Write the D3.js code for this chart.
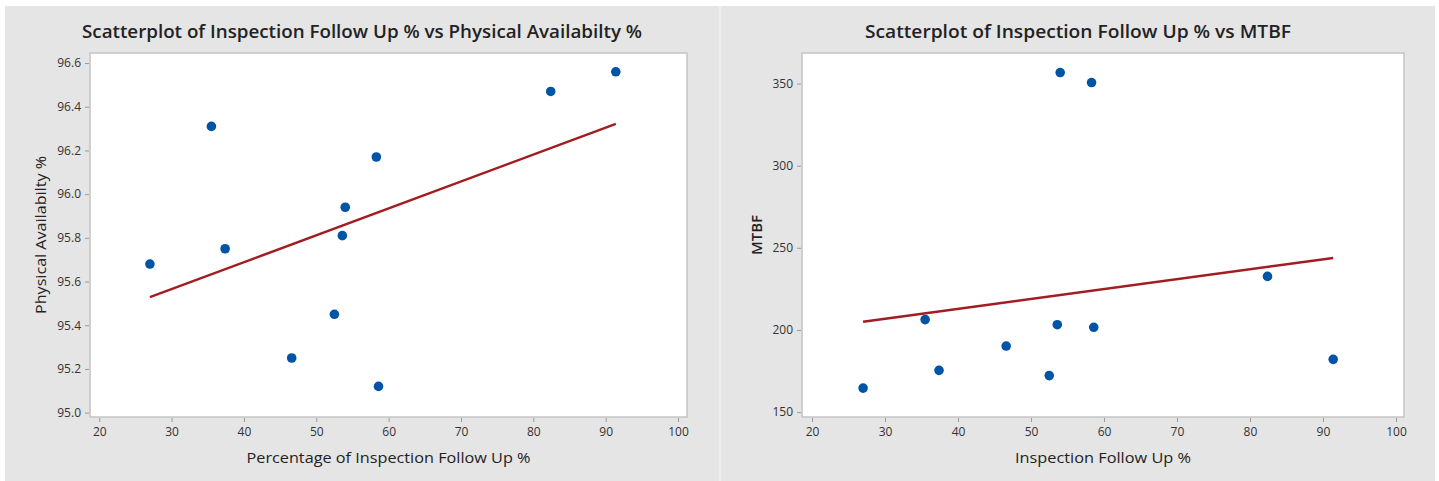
<!DOCTYPE html>
<html>
<head>
<meta charset="utf-8">
<script src="https://d3js.org/d3.v7.min.js"></script>
<style>
  body { margin: 0; background: #fff; }
  svg text { font-family: "Open Sans", "Noto Sans", sans-serif; }
</style>
</head>
<body>
<div id="chart"></div>
<script>
// Inspection follow up % (shared x values for both scatterplots)
const followUp = [27.0, 35.5, 37.4, 46.6, 52.5, 53.6, 54.0, 58.3, 58.6, 82.4, 91.4];
// Physical availability %
const availability = [95.68, 96.31, 95.75, 95.25, 95.45, 95.81, 95.94, 96.17, 95.12, 96.47, 96.56];
// Mean time between failures
const mtbf = [164.6, 206.3, 175.4, 190.2, 172.2, 203.2, 356.7, 350.6, 201.6, 232.6, 182.1];

const xTicks = [20, 30, 40, 50, 60, 70, 80, 90, 100];
const availTicks = [95.0, 95.2, 95.4, 95.6, 95.8, 96.0, 96.2, 96.4, 96.6];
const mtbfTicks = [150, 200, 250, 300, 350];

const W = 1439, H = 481;

const svg = d3.select("#chart").append("svg")
    .attr("width", W)
    .attr("height", H);

// thin divider strip between the two panels
svg.append("rect")
    .attr("x", 5).attr("y", 6)
    .attr("width", 1430).attr("height", H - 6)
    .attr("fill", "#efefef");

// least squares fit
function fit(xs, ys) {
  const mx = d3.mean(xs), my = d3.mean(ys);
  let sxy = 0, sxx = 0;
  xs.forEach((x, i) => { sxy += (x - mx) * (ys[i] - my); sxx += (x - mx) * (x - mx); });
  const b = sxy / sxx;
  return x => my + b * (x - mx);
}

function drawPanel(opt) {
  const g = svg.append("g");

  // panel background
  g.append("rect")
      .attr("x", opt.panel[0]).attr("y", 6)
      .attr("width", opt.panel[1] - opt.panel[0]).attr("height", H - 6)
      .attr("fill", "#e5e5e5");

  const x = d3.scaleLinear().domain(opt.xDomain).range([opt.left, opt.right]);
  const y = d3.scaleLinear().domain(opt.yDomain).range([opt.bottom, opt.top]);

  // plot area
  g.append("rect")
      .attr("x", opt.left).attr("y", opt.top)
      .attr("width", opt.right - opt.left).attr("height", opt.bottom - opt.top)
      .attr("fill", "#fff")
      .attr("stroke", "#c4c4c4")
      .attr("stroke-width", 1.5);

  // axes
  const xAxis = g.append("g")
      .attr("transform", "translate(0," + (opt.bottom + 1) + ")")
      .call(d3.axisBottom(x).tickValues(xTicks).tickSize(4).tickPadding(5).tickFormat(d3.format("d")));
  const yAxis = g.append("g")
      .attr("transform", "translate(" + (opt.left - 1) + ",0)")
      .call(d3.axisLeft(y).tickValues(opt.yTicks).tickSize(4).tickPadding(4).tickFormat(opt.yFormat));

  [xAxis, yAxis].forEach(a => {
    a.select(".domain").remove();
    a.selectAll(".tick line").attr("stroke", "#9a9a9a");
    a.selectAll(".tick text")
        .attr("fill", "#333")
        .style("font-size", "12px");
  });

  // regression line
  const f = fit(followUp, opt.ys);
  const ext = d3.extent(followUp);
  g.append("line")
      .attr("x1", x(ext[0])).attr("y1", y(f(ext[0])))
      .attr("x2", x(ext[1])).attr("y2", y(f(ext[1])))
      .attr("stroke", "#a11d21")
      .attr("stroke-width", 2.5);

  // points
  g.selectAll("circle.pt")
      .data(followUp.map((d, i) => [d, opt.ys[i]]))
      .enter().append("circle")
      .attr("class", "pt")
      .attr("cx", d => x(d[0]))
      .attr("cy", d => y(d[1]))
      .attr("r", 4.8)
      .attr("fill", "#0054a6");

  // title
  g.append("text")
      .attr("x", (opt.panel[0] + opt.panel[1]) / 2)
      .attr("y", 38)
      .attr("text-anchor", "middle")
      .attr("fill", "#222")
      .attr("textLength", opt.titleLen)
      .attr("lengthAdjust", "spacingAndGlyphs")
      .style("font-size", "18px")
      .style("font-weight", 600)
      .text(opt.title);

  // x label
  g.append("text")
      .attr("x", (opt.left + opt.right) / 2)
      .attr("y", 463)
      .attr("text-anchor", "middle")
      .attr("fill", "#222")
      .attr("textLength", opt.xLabelLen)
      .attr("lengthAdjust", "spacingAndGlyphs")
      .style("font-size", "15px")
      .text(opt.xLabel);

  // y label
  g.append("text")
      .attr("transform", "translate(" + opt.yLabelX + "," + ((opt.top + opt.bottom) / 2) + ") rotate(-90)")
      .attr("text-anchor", "middle")
      .attr("fill", "#222")
      .attr("textLength", opt.yLabelLen)
      .attr("lengthAdjust", "spacingAndGlyphs")
      .style("font-size", "14px")
      .style("font-weight", opt.yLabelWeight)
      .text(opt.yLabel);
}

drawPanel({
  panel: [5, 719],
  left: 90, right: 687, top: 53, bottom: 417,
  xDomain: [18.72, 101.24],
  yDomain: [94.98, 96.646],
  ys: availability,
  yTicks: availTicks,
  yFormat: d3.format(".1f"),
  title: "Scatterplot of Inspection Follow Up % vs Physical Availabilty %",
  titleLen: 560,
  xLabel: "Percentage of Inspection Follow Up %",
  xLabelLen: 284,
  yLabel: "Physical Availabilty %",
  yLabelLen: 158,
  yLabelX: 46,
  yLabelWeight: 400
});

drawPanel({
  panel: [721, 1435],
  left: 802, right: 1404, top: 53, bottom: 417,
  xDomain: [18.63, 101.1],
  yDomain: [147, 368.6],
  ys: mtbf,
  yTicks: mtbfTicks,
  yFormat: d3.format("d"),
  title: "Scatterplot of Inspection Follow Up % vs MTBF",
  titleLen: 426,
  xLabel: "Inspection Follow Up %",
  xLabelLen: 176,
  yLabel: "MTBF",
  yLabelLen: 40,
  yLabelX: 762,
  yLabelWeight: 600
});
</script>
</body>
</html>
